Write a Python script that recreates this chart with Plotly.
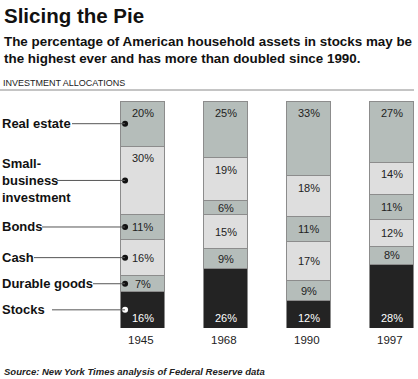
import plotly.graph_objects as go

# ---- data ----
years = ["1945", "1968", "1990", "1997"]
categories = ["Stocks", "Durable goods", "Cash", "Bonds", "Small-business investment", "Real estate"]
label_text = ["Stocks", "Durable goods", "Cash", "Bonds", "Small-<br>business<br>investment", "Real estate"]
stocks = [16, 26, 12, 28]
durable_goods = [7, 9, 9, 8]
cash = [16, 15, 17, 12]
bonds = [11, 6, 11, 11]
small_business = [30, 19, 18, 14]
real_estate = [20, 25, 33, 27]
series = [stocks, durable_goods, cash, bonds, small_business, real_estate]

# ---- style ----
W, H = 418, 379
DARK = "#b5bdba"
LIGHT = "#dedede"
BLACK = "#232323"
colors = [BLACK, DARK, LIGHT, DARK, LIGHT, DARK]
FONT = "Liberation Sans, Arial, sans-serif"

def py(px):  # pixel from top -> paper y
    return 1 - px / H

def px_x(px):
    return px / W

x = list(range(len(years)))
fig = go.Figure()
for name, vals, col in zip(categories, series, colors):
    fig.add_trace(go.Bar(x=x, y=vals, name=name, width=0.54,
                         marker=dict(color=col, line=dict(color="#8c8c8c", width=1)),
                         hoverinfo="skip", showlegend=False))

annotations = []
# percent labels
for j in range(len(years)):
    base = 0
    for i, vals in enumerate(series):
        v = vals[j]
        top = base + v
        name = categories[i]
        if name == "Stocks":
            ya, ys, col = base, 10, "white"
        elif name in ("Real estate", "Small-business investment"):
            ya, ys, col = top, -12, "#222"
        else:
            ya, ys, col = base + v / 2, 0, "#222"
        annotations.append(dict(x=x[j], y=ya, yshift=ys, xref="x", yref="y",
                                text=f"{v}%", showarrow=False,
                                font=dict(family=FONT, size=11, color=col),
                                xanchor="center", yanchor="middle"))
        base = top

# year labels
for j, yr in enumerate(years):
    annotations.append(dict(x=x[j], y=0, xref="x", yref="y", yshift=-12, xshift=-2,
                            text=yr, showarrow=False,
                            font=dict(family=FONT, size=11.5, color="#222"),
                            xanchor="center", yanchor="middle"))

# left labels, leader lines, dots
line_start_px = [52, 93, 34, 42, 57, 72]
shapes = []
dot_x, dot_y, dot_col = [], [], []
base = 0
for i, vals in enumerate(series):
    v = vals[0]
    yc = base + v / 2
    annotations.append(dict(x=0, y=yc, xref="paper", yref="y", xshift=0,
                            text=f"<b>{label_text[i]}</b>", showarrow=False, align="left",
                            font=dict(family=FONT, size=13, color="#111"),
                            xanchor="left", yanchor="middle"))
    shapes.append(dict(type="line", xref="paper", yref="y",
                       x0=px_x(line_start_px[i]), x1=px_x(125), y0=yc, y1=yc,
                       line=dict(color="#555", width=1)))
    dot_x.append(x[0] - 0.21)
    dot_y.append(yc)
    dot_col.append("white" if categories[i] == "Stocks" else "#111")
    base += v

fig.add_trace(go.Scatter(x=dot_x, y=dot_y, mode="markers",
                         marker=dict(size=6, color=dot_col, line=dict(width=0)),
                         hoverinfo="skip", showlegend=False))

# header texts
annotations.append(dict(x=0, y=py(15), xref="paper", yref="paper", xshift=2,
                        text="<b>Slicing the Pie</b>", showarrow=False,
                        font=dict(family=FONT, size=20.5, color="#111"),
                        xanchor="left", yanchor="middle"))
annotations.append(dict(x=0, y=py(50), xref="paper", yref="paper", xshift=2,
                        text="<b>The percentage of American household assets in stocks may be<br>the highest ever and has more than doubled since 1990.</b>",
                        showarrow=False, align="left",
                        font=dict(family=FONT, size=13.4, color="#111"),
                        xanchor="left", yanchor="middle"))
annotations.append(dict(x=0, y=py(83), xref="paper", yref="paper", xshift=1,
                        text="INVESTMENT ALLOCATIONS", showarrow=False,
                        font=dict(family=FONT, size=9, color="#222"),
                        xanchor="left", yanchor="middle"))
annotations.append(dict(x=0, y=py(371), xref="paper", yref="paper", xshift=2,
                        text="<b><i>Source: New York Times analysis of Federal Reserve data</i></b>",
                        showarrow=False,
                        font=dict(family=FONT, size=9.5, color="#222"),
                        xanchor="left", yanchor="middle"))
shapes.append(dict(type="line", xref="paper", yref="paper", x0=0, x1=px_x(414),
                   y0=py(90), y1=py(90), line=dict(color="#8a8a8a", width=1)))

scale = 83.0
x0 = -142.5 / scale
fig.update_layout(
    width=W, height=H, barmode="stack",
    margin=dict(l=0, r=0, t=0, b=0),
    paper_bgcolor="white", plot_bgcolor="white",
    xaxis=dict(range=[x0, x0 + W / scale], domain=[0, 1], visible=False, fixedrange=True),
    yaxis=dict(range=[0, 100], domain=[py(328), py(101)], visible=False, fixedrange=True),
    annotations=annotations, shapes=shapes,
)
fig.write_html("out.html", config={"displayModeBar": False},
               post_script="document.body.style.margin='0';document.body.style.padding='0';document.body.style.overflow='hidden';")
